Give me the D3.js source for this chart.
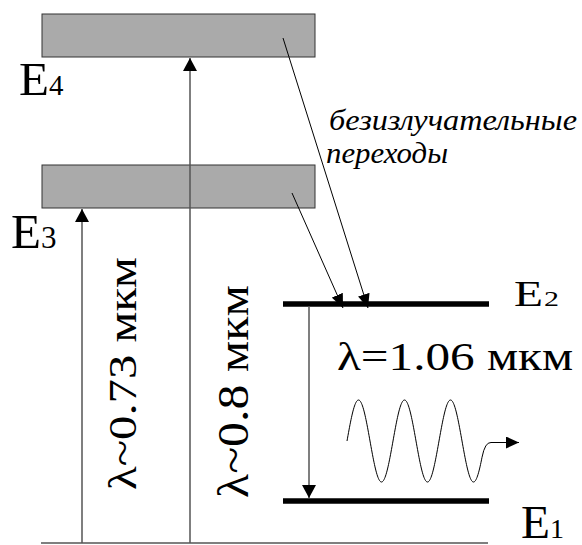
<!DOCTYPE html>
<html>
<head>
<meta charset="utf-8">
<script src="https://cdn.jsdelivr.net/npm/d3@7"></script>
<style>
  html, body { margin: 0; padding: 0; background: #fff; }
  svg { display: block; }
</style>
</head>
<body>
<svg id="chart" width="582" height="545"></svg>
<script>
// Energy scale of the diagram (arbitrary units above the ground line)
const groundLevel = 0;
const lineLevels = [42, 239];             // E1, E2 : narrow working levels
const lineNames = ["1", "2"];
const bandBottoms = [335, 486];           // E3, E4 : broad pump bands
const bandTops = [378, 529];
const bandNames = ["3", "4"];

// Pump transitions: from ground up to each band
const pumpTargets = [0, 1];               // index into bands
const pumpLabels = ["λ~0.73 мкм", "λ~0.8 мкм"];

// Laser transition E2 -> E1
const laserLabel = "λ=1.06 мкм";
const noteLines = ["безизлучательные", "переходы"];

const FONT = "Liberation Serif";

const svg = d3.select("#chart");

const y = d3.scaleLinear().domain([0, 530]).range([543, 13]);
const x = d3.scaleLinear().domain([0, 582]).range([0, 582]);

// arrow heads
const defs = svg.append("defs");
function marker(id, len, wid) {
  defs.append("marker")
    .attr("id", id)
    .attr("markerUnits", "userSpaceOnUse")
    .attr("viewBox", `0 ${-wid / 2} ${len} ${wid}`)
    .attr("refX", len).attr("refY", 0)
    .attr("markerWidth", len).attr("markerHeight", wid)
    .attr("orient", "auto")
    .append("path")
    .attr("d", `M0,${-wid / 2}L${len},0L0,${wid / 2}Z`)
    .attr("fill", "#000");
}
marker("headV", 13, 14);
marker("headD", 14, 12);
marker("headS", 13, 12);

// ground line
svg.append("line")
  .attr("x1", x(41)).attr("x2", x(488))
  .attr("y1", y(groundLevel)).attr("y2", y(groundLevel))
  .attr("stroke", "#555").attr("stroke-width", 1.3);

// pump bands E3, E4
svg.selectAll("rect.band")
  .data(bandBottoms)
  .join("rect")
  .attr("class", "band")
  .attr("x", x(42))
  .attr("width", x(315) - x(42))
  .attr("y", (d, i) => y(bandTops[i]))
  .attr("height", (d, i) => y(d) - y(bandTops[i]))
  .attr("fill", "#aaaaaa")
  .attr("stroke", "#333")
  .attr("stroke-width", 1);

// pump arrows from ground to band bottoms
const pumpX = [82, 190];
svg.selectAll("line.pump")
  .data(pumpTargets)
  .join("line")
  .attr("class", "pump")
  .attr("x1", (d, i) => x(pumpX[i])).attr("x2", (d, i) => x(pumpX[i]))
  .attr("y1", y(groundLevel))
  .attr("y2", d => y(bandBottoms[d]) + 1)
  .attr("stroke", "#555").attr("stroke-width", 1.5)
  .attr("marker-end", "url(#headV)");

// narrow levels E1, E2
svg.selectAll("line.level")
  .data(lineLevels)
  .join("line")
  .attr("class", "level")
  .attr("x1", x(283)).attr("x2", x(489))
  .attr("y1", d => y(d)).attr("y2", d => y(d))
  .attr("stroke", "#000").attr("stroke-width", 5.5);

// laser transition E2 -> E1
svg.append("line")
  .attr("x1", x(309)).attr("x2", x(309))
  .attr("y1", y(lineLevels[1]) + 2)
  .attr("y2", y(lineLevels[0]) - 3)
  .attr("stroke", "#555").attr("stroke-width", 1.5)
  .attr("marker-end", "url(#headV)");

// non-radiative relaxation from bands to E2
const relaxStart = [[292, 350], [283, 505]];
const relaxEndX = [343, 368];
svg.selectAll("line.relax")
  .data(relaxStart)
  .join("line")
  .attr("class", "relax")
  .attr("x1", d => x(d[0])).attr("y1", d => y(d[1]))
  .attr("x2", (d, i) => x(relaxEndX[i]))
  .attr("y2", y(lineLevels[1]) + 4)
  .attr("stroke", "#000").attr("stroke-width", 1)
  .attr("marker-end", "url(#headD)");

// emitted wave
const wx0 = 347, period = 46, amp = 41, wy = 441, cycles = 3;
const wavePts = d3.range(0, cycles * period + 0.5, 0.5)
  .map(t => [wx0 + t, wy - amp * Math.sin(2 * Math.PI * t / period)]);
const wavePath = d3.line()(wavePts.slice(0, wavePts.length - 6)) +
  `Q${wx0 + cycles * period},${wy + 1} ${wx0 + cycles * period + 6},${wy + 1.5}L${519},${wy + 1.5}`;
svg.append("path")
  .attr("d", wavePath)
  .attr("fill", "none")
  .attr("stroke", "#000").attr("stroke-width", 1)
  .attr("marker-end", "url(#headS)");

// text helper: stretched glyphs placed by ink box
function label(str, px, py, size, len, opts = {}) {
  const t = svg.append("text")
    .attr("x", px).attr("y", py)
    .attr("font-family", FONT)
    .attr("fill", "#000")
    .attr("font-size", size)
    .text(str);
  if (len) t.attr("textLength", len).attr("lengthAdjust", "spacingAndGlyphs");
  if (opts.italic) t.attr("font-style", "italic");
  if (opts.rotate) t.attr("x", 0).attr("y", 0)
    .attr("transform", `translate(${px},${py}) rotate(-90)`);
  return t;
}

// level names
const bandNameBase = [248, 95];
const bandEX = [11, 19];
const bandESize = [49, 47];
const bandDigitX = [41, 49];
const bandDigitSize = [31, 29];
bandNames.forEach((n, i) => {
  label("E", bandEX[i], bandNameBase[i], bandESize[i], 30);
  label(n, bandDigitX[i], bandNameBase[i], bandDigitSize[i]);
});

const lineNameBase = [538, 306];
const lineEX = [521, 514];
const lineESize = [46, 35];
const lineDigitX = [550, 544];
const lineDigitSize = [28, 22];
lineNames.forEach((n, i) => {
  label("E", lineEX[i], lineNameBase[i], lineESize[i], 29);
  label(n, lineDigitX[i], lineNameBase[i], lineDigitSize[i], i === 1 ? 15 : null);
});

// pump wavelength labels (vertical)
const pumpLabelX = [136, 248];
const pumpLabelY = [490, 498];
const pumpLabelSize = [39, 44];
const pumpLabelLen = [233, 213];
pumpLabels.forEach((s, i) => {
  label(s, pumpLabelX[i], pumpLabelY[i], pumpLabelSize[i], pumpLabelLen[i], { rotate: true });
});

// laser wavelength
label(laserLabel, 337, 370, 40, 236);

// note on relaxation
label(noteLines[0], 329, 130, 29, 248, { italic: true });
label(noteLines[1], 326, 163, 29, 122, { italic: true });
</script>
</body>
</html>
